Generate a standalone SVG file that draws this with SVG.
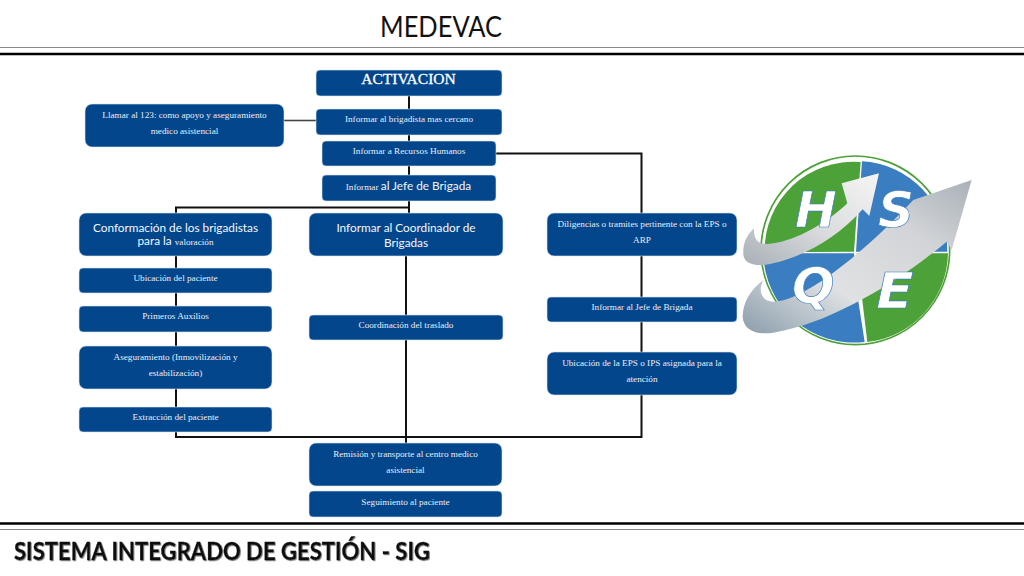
<svg xmlns="http://www.w3.org/2000/svg" width="1024" height="576" viewBox="0 0 1024 576">
<style>
.n{fill:#03468c;stroke:#d8e6f2;stroke-width:.6}
.s{font-family:"Liberation Serif","DejaVu Serif",serif;font-size:9.200px;fill:#e8eef6;text-anchor:middle}
.o{font-family:Lato,"Open Sans",sans-serif;font-size:11.800px;fill:#f4f7fb;text-anchor:middle}
.c{fill:none;stroke:#111;stroke-width:2}
.l{font-family:"DejaVu Sans",sans-serif;font-weight:bold;font-style:italic;font-size:150px;fill:#fff;stroke:#3a7dc0;stroke-width:2;text-anchor:middle}
</style>
<defs>
<linearGradient id="big" x1="0" y1="1" x2="1" y2="0"><stop offset="0" stop-color="#8b9dab"/><stop offset=".35" stop-color="#dfe1e3"/><stop offset=".7" stop-color="#d2d4d7"/><stop offset="1" stop-color="#a9b1b8"/></linearGradient>
<linearGradient id="small" x1="0" y1="1" x2="1" y2="0"><stop offset="0" stop-color="#a8b0b6"/><stop offset=".5" stop-color="#dcdddf"/><stop offset="1" stop-color="#f5f5f5"/></linearGradient>
<filter id="sh" x="-2%" y="-20%" width="104%" height="140%"><feDropShadow dx=".8" dy=".8" stdDeviation=".7" flood-color="#777"/></filter>
</defs>
<rect width="1024" height="576" fill="#fff"/>
<g id="frame">
<path d="M0 47.500H1024M0 529.500H1024" stroke="#8a8a8a" stroke-width="1.200"/>
<path d="M0 54H1024M0 523.500H1024" stroke="#000" stroke-width="2.400"/>
</g>
<text id="title" x="441" y="37" font-family="Lato,'Open Sans',sans-serif" font-size="28" fill="#111" text-anchor="middle" textLength="122" lengthAdjust="spacingAndGlyphs">MEDEVAC</text>
<g id="connectors">
<path class="c" d="M409 96V213"/>
<path d="M284 120.500H316" fill="none" stroke="#444" stroke-width="1.600"/>
<path class="c" d="M496 153.500H641.500V437H176V207.500H409"/>
<path class="c" d="M406 256V443"/>
</g>
<g id="n-activacion"><rect class="n" x="316" y="70" width="186" height="26" rx="4"/><text x="408.500" y="84" font-family="'Liberation Serif',serif" font-size="15.500" fill="#fff" stroke="#fff" stroke-width=".3" text-anchor="middle">ACTIVACION</text></g>
<g id="n-brigadista"><rect class="n" x="316" y="109" width="186" height="26" rx="4"/><text class="s" x="409" y="122">Informar al brigadista mas cercano</text></g>
<g id="n-rrhh"><rect class="n" x="322" y="141" width="174" height="25" rx="4"/><text class="s" x="409" y="154">Informar a Recursos Humanos</text></g>
<g id="n-jefe"><rect class="n" x="322" y="175" width="174" height="26" rx="4"/><text class="s" x="408.500" y="190">Informar <tspan class="o">al Jefe de Brigada</tspan></text></g>
<g id="n-llamar"><rect class="n" x="85" y="104" width="199" height="43" rx="7"/><text class="s" x="184.500" y="118">Llamar al 123: como apoyo y aseguramiento</text><text class="s" x="184.500" y="134">medico asistencial</text></g>
<g id="n-conformacion"><rect class="n" x="79" y="213" width="193" height="43" rx="7"/><text class="o" x="175.500" y="231.500">Conformación de los brigadistas</text><text class="o" x="175.500" y="245">para la <tspan class="s">valoración</tspan></text></g>
<g id="n-coordinador"><rect class="n" x="309" y="213" width="194" height="43" rx="7"/><text class="o" x="406" y="232">Informar al Coordinador de</text><text class="o" x="406" y="247">Brigadas</text></g>
<g id="n-diligencias"><rect class="n" x="547" y="213" width="190" height="43" rx="7"/><text class="s" x="642" y="227">Diligencias o tramites pertinente con la EPS o</text><text class="s" x="642" y="243">ARP</text></g>
<g id="n-ubicacion"><rect class="n" x="79" y="268" width="193" height="25" rx="4"/><text class="s" x="175.500" y="281">Ubicación del paciente</text></g>
<g id="n-primeros"><rect class="n" x="79" y="306" width="193" height="26" rx="4"/><text class="s" x="175.500" y="319">Primeros Auxilios</text></g>
<g id="n-aseguramiento"><rect class="n" x="79" y="346" width="193" height="43" rx="7"/><text class="s" x="175.500" y="360">Aseguramiento (Inmovilización y</text><text class="s" x="175.500" y="376">estabilización)</text></g>
<g id="n-extraccion"><rect class="n" x="79" y="407" width="193" height="25" rx="4"/><text class="s" x="175.500" y="420">Extracción del paciente</text></g>
<g id="n-traslado"><rect class="n" x="309" y="315" width="194" height="25" rx="4"/><text class="s" x="406" y="328">Coordinación del traslado</text></g>
<g id="n-jefe2"><rect class="n" x="547" y="297" width="190" height="25" rx="4"/><text class="s" x="642" y="310">Informar al Jefe de Brigada</text></g>
<g id="n-eps"><rect class="n" x="547" y="352" width="190" height="43" rx="7"/><text class="s" x="642" y="366">Ubicación de la EPS o IPS asignada para la</text><text class="s" x="642" y="382">atención</text></g>
<g id="n-remision"><rect class="n" x="309" y="443" width="193" height="43" rx="7"/><text class="s" x="405.500" y="457">Remisión y transporte al centro medico</text><text class="s" x="405.500" y="473">asistencial</text></g>
<g id="n-seguimiento"><rect class="n" x="309" y="491" width="193" height="26" rx="4"/><text class="s" x="405.500" y="505">Seguimiento al paciente</text></g>
<g id="logo" transform="translate(730 140) scale(.3333)">
<circle cx="376" cy="331" r="283" fill="#fff" stroke="#4ca138" stroke-width="5"/>
<path d="M392 66A266 266 0 0 0 104 337L372 335Z" fill="#4ca138"/>
<path d="M396 64A270 270 0 0 1 652 335H378Z" fill="#3a7dc0"/>
<path d="M100 340H372L383 470L404 606A272 272 0 0 1 100 340Z" fill="#3a7dc0"/>
<path d="M380 340H654A272 272 0 0 1 412 606Z" fill="#4ca138"/>
<path d="M40 345C38 310 50 285 72 265C70 300 85 318 130 310C200 300 290 250 352 190L335 130L447 100L418 228L398 208C320 295 230 345 130 370C90 380 45 378 40 345Z" fill="url(#small)"/>
<path d="M38 530C38 490 60 450 100 420C85 450 90 482 130 485C220 485 400 340 550 180L725 120L665 330L650 305C500 430 300 550 130 578C80 586 40 570 38 530Z" fill="url(#big)"/>
<text class="l" x="258" y="260">H</text>
<text class="l" x="498" y="262">S</text>
<text class="l" x="250" y="490">Q</text>
<text class="l" x="495" y="504" textLength="112" lengthAdjust="spacingAndGlyphs">E</text>
</g>
<text id="footer" x="14" y="560" font-family="Lato,'Open Sans',sans-serif" font-size="24" font-weight="700" fill="#111" stroke="#111" stroke-width=".3" filter="url(#sh)" textLength="416" lengthAdjust="spacingAndGlyphs">SISTEMA INTEGRADO DE GESTIÓN - SIG</text>
</svg>
